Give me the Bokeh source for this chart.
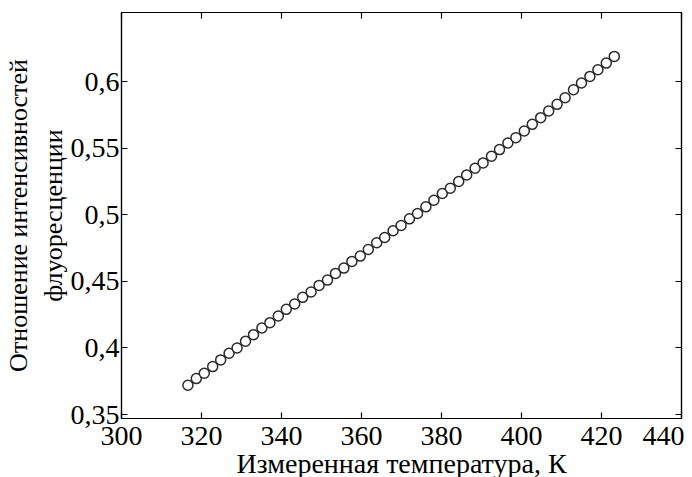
from bokeh.plotting import figure
from bokeh.models import LinearAxis, FixedTicker, Range1d
from bokeh.embed import file_html
from bokeh.resources import INLINE

# Data
temperature = [316.6, 318.7, 320.7, 322.8, 324.8, 326.9, 328.9, 331.0, 333.0, 335.1,
               337.1, 339.2, 341.2, 343.3, 345.3, 347.4, 349.4, 351.5, 353.5, 355.6,
               357.6, 359.7, 361.7, 363.8, 365.8, 367.9, 369.9, 372.0, 374.0, 376.1,
               378.1, 380.2, 382.2, 384.3, 386.3, 388.4, 390.4, 392.5, 394.5, 396.6,
               398.6, 400.7, 402.7, 404.8, 406.8, 408.9, 410.9, 413.0, 415.0, 417.1,
               419.1, 421.2, 423.2]
ratio = [0.372, 0.377, 0.381, 0.386, 0.391, 0.396, 0.400, 0.405, 0.410, 0.415,
         0.419, 0.424, 0.429, 0.433, 0.438, 0.442, 0.447, 0.451, 0.456, 0.460,
         0.465, 0.469, 0.474, 0.479, 0.483, 0.488, 0.492, 0.497, 0.501, 0.506,
         0.511, 0.516, 0.520, 0.525, 0.530, 0.535, 0.539, 0.544, 0.549, 0.554,
         0.558, 0.563, 0.568, 0.573, 0.578, 0.583, 0.588, 0.594, 0.599, 0.604,
         0.609, 0.614, 0.619]

x_ticks = [300, 320, 340, 360, 380, 400, 420, 440]
y_ticks = [0.35, 0.4, 0.45, 0.5, 0.55, 0.6]
y_tick_labels = ["0,35", "0,4", "0,45", "0,5", "0,55", "0,6"]

x_label = "Измеренная температура, К"
y_label = "Отношение интенсивностей\nфлуоресценции"

FONT = "Liberation Serif"

p = figure(frame_width=560, frame_height=406,
           x_range=Range1d(300, 440), y_range=Range1d(0.347, 0.652),
           output_backend="svg", toolbar_location=None,
           min_border_left=121, min_border_right=3, min_border_top=12, min_border_bottom=48,
           background_fill_color="white", border_fill_color="white")

p.grid.visible = False
p.outline_line_color = "black"
p.outline_line_width = 1.2

p.scatter(temperature, ratio, marker="circle", size=10, line_color="#2a2a2a",
          line_width=1.5, fill_color="white")

def style_axis(ax, labels=True):
    ax.axis_line_color = "black"
    ax.axis_line_width = 1.2
    ax.major_tick_in = 6
    ax.major_tick_out = 0
    ax.minor_tick_in = 0
    ax.minor_tick_out = 0
    ax.major_tick_line_color = "black"
    ax.major_tick_line_width = 1.2
    if labels:
        ax.major_label_text_font = FONT
        ax.major_label_text_font_size = "28px"
        ax.major_label_text_color = "black"
    else:
        ax.major_label_text_font_size = "1px"
        ax.major_label_text_color = None
        ax.major_label_standoff = 0

xa = p.xaxis[0]
xa.ticker = FixedTicker(ticks=x_ticks)
style_axis(xa)
xa.major_label_standoff = 8
xa.axis_label = x_label
xa.axis_label_text_font = FONT
xa.axis_label_text_font_size = "28px"
xa.axis_label_text_font_style = "normal"
xa.axis_label_text_color = "black"
xa.axis_label_standoff = 0

ya = p.yaxis[0]
ya.ticker = FixedTicker(ticks=y_ticks)
ya.major_label_overrides = {t: l for t, l in zip(y_ticks, y_tick_labels)}
style_axis(ya)
ya.major_label_standoff = 2
ya.axis_label = y_label
ya.axis_label_text_font = FONT
ya.axis_label_text_font_size = "26px"
ya.axis_label_text_font_style = "normal"
ya.axis_label_text_color = "black"
ya.axis_label_standoff = 0

top = LinearAxis(ticker=FixedTicker(ticks=x_ticks))
style_axis(top, labels=False)
p.add_layout(top, "above")

right = LinearAxis(ticker=FixedTicker(ticks=y_ticks))
style_axis(right, labels=False)
p.add_layout(right, "right")

open("out.html", "w").write(file_html(p, INLINE))
